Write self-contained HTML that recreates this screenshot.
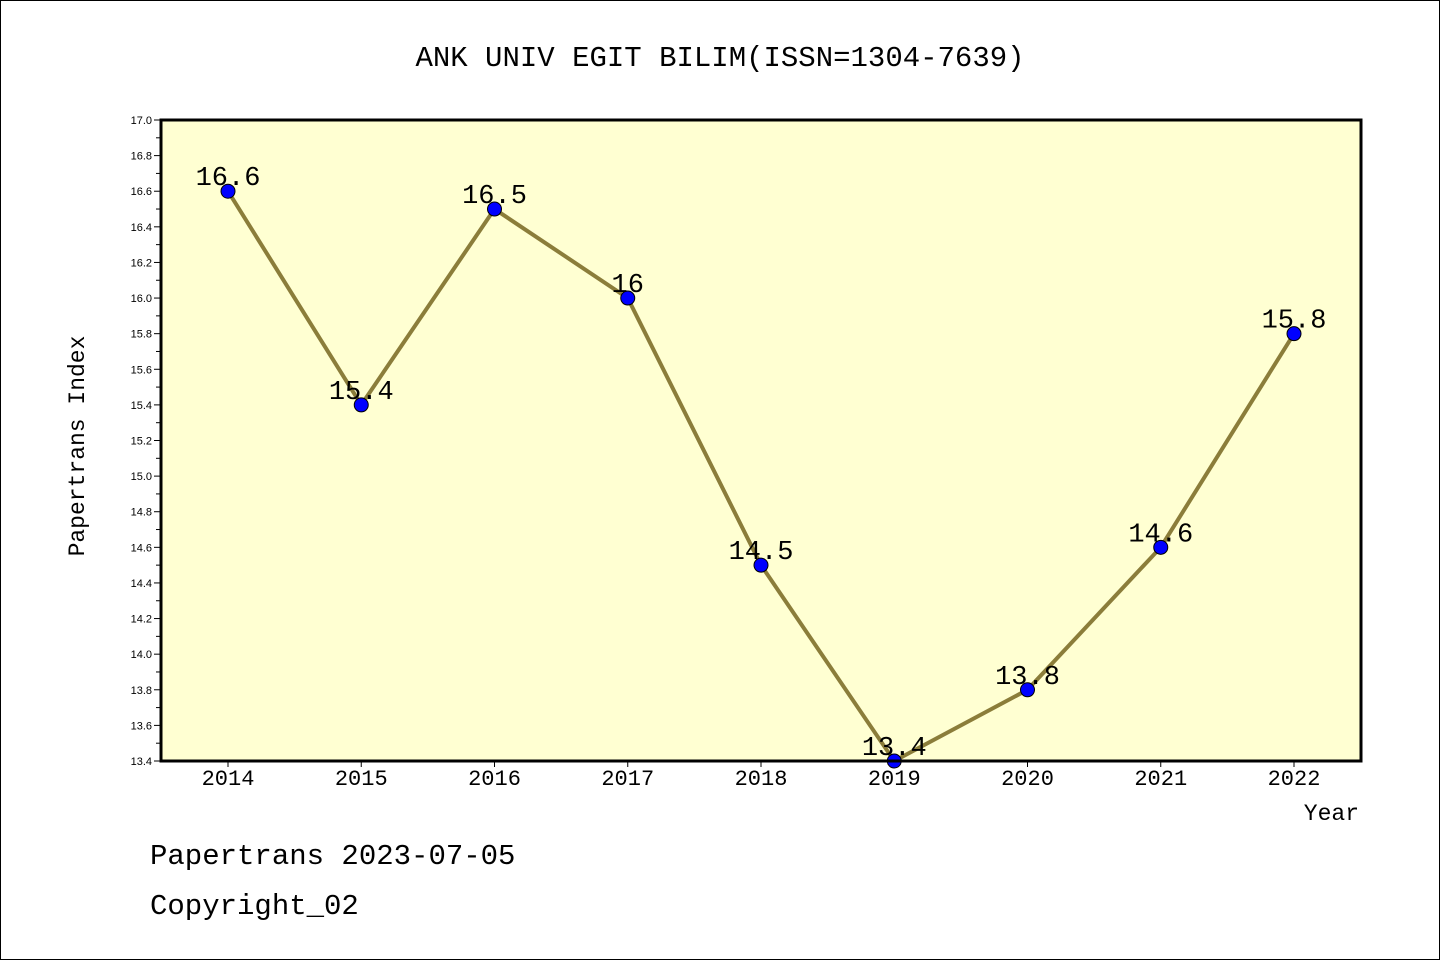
<!DOCTYPE html>
<html><head><meta charset="utf-8"><style>
body{margin:0;background:#fff}
svg{display:block;font-family:"WenQuanYi Zen Hei Mono","Liberation Mono",monospace}
</style></head><body>
<svg width="1440" height="960">
<rect x="0.5" y="0.5" width="1439" height="959" fill="#fff" stroke="#000"/>
<text x="720" y="66" font-size="29" text-anchor="middle">ANK UNIV EGIT BILIM(ISSN=1304-7639)</text>
<rect x="161" y="120" width="1200" height="641" fill="#ffffd2"/>
<g id="g"></g>
<rect x="161" y="120" width="1200" height="641" fill="none" stroke="#000" stroke-width="3"/>
<text transform="translate(84,446) rotate(-90)" font-size="23" text-anchor="middle">Papertrans Index</text>
<text x="1359" y="820" font-size="23" text-anchor="end">Year</text>
<text x="150" y="864" font-size="29">Papertrans 2023-07-05</text>
<text x="150" y="914" font-size="29">Copyright_02</text>
</svg>
<script>
const years=["2014","2015","2016","2017","2018","2019","2020","2021","2022"];
const values=[16.6,15.4,16.5,16.0,14.5,13.4,13.8,14.6,15.8];
const labels=["16.6","15.4","16.5","16","14.5","13.4","13.8","14.6","15.8"];
const yTicks=["13.4","13.6","13.8","14.0","14.2","14.4","14.6","14.8","15.0","15.2","15.4","15.6","15.8","16.0","16.2","16.4","16.6","16.8","17.0"];
(function(){
const NS="http://www.w3.org/2000/svg";
const g=document.getElementById('g');
const yMin=13.4,yMax=17.0,pTop=120,pBot=761;
const X=i=>228+i*(1294-228)/(years.length-1);
const Y=v=>pBot-(v-yMin)/(yMax-yMin)*(pBot-pTop);
function mk(t,a){const e=document.createElementNS(NS,t);for(const k in a)e.setAttribute(k,a[k]);g.appendChild(e);return e;}
for(let k=0;k<=Math.round((yMax-yMin)*10);k++){
 const v=yMin+k/10;
 const major=k%2===0;
 const t=mk('line',{x1:161,x2:major?154:156,y1:Y(v),y2:Y(v),stroke:'#000','stroke-width':1});
 
 
}
yTicks.forEach(s=>{
 const t=mk('text',{x:152,y:Y(parseFloat(s))+4,'font-size':11,'text-anchor':'end','font-family':'"Liberation Sans",sans-serif'});
 t.textContent=s;
 
 
});
years.forEach((s,i)=>{
 const tk=mk('line',{x1:X(i),x2:X(i),y1:761,y2:767,stroke:'#000'});
 
 
 const t=mk('text',{x:X(i),y:785,'font-size':22,'text-anchor':'middle'});
 t.textContent=s;
 
 
});
const line=mk('polyline',{points:values.map((v,i)=>X(i)+','+Y(v)).join(' '),fill:'none',stroke:'#8b7d3a','stroke-width':4});


values.forEach((v,i)=>{
 const c=mk('circle',{cx:X(i),cy:Y(v),r:7,fill:'#0000ff',stroke:'#000','stroke-width':1});
 
 
 const t=mk('text',{x:X(i),y:Y(v)-6,'font-size':27,'text-anchor':'middle'});
 t.textContent=labels[i];
 
 
});
})();
</script>
</body></html>
